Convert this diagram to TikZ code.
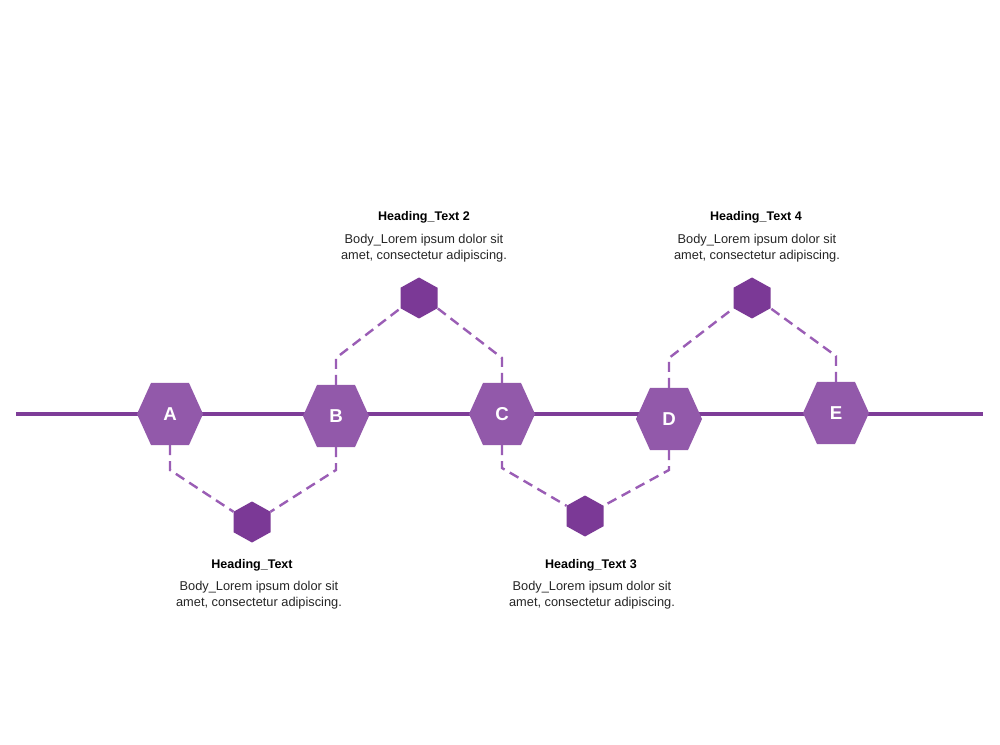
\documentclass[tikz,border=0pt]{standalone}
\usepackage{fontspec}
\setmainfont{Liberation Sans}
\usetikzlibrary{calc}
\definecolor{hexfill}{HTML}{9259AA}
\definecolor{linecol}{HTML}{7E3D98}
\definecolor{smallfill}{HTML}{7B3996}
\definecolor{dashcol}{HTML}{9A5DB5}
\tikzset{
  bighex/.style={rectangle, inner sep=0pt, outer sep=0pt,
    minimum width=49.5pt, minimum height=46.5pt,
    text=white, font=\fontsize{14}{16}\selectfont\bfseries,
    path picture={\fill[hexfill] (path picture bounding box.west)
      -- ($(path picture bounding box.north)!0.576!(path picture bounding box.north west)$)
      -- ($(path picture bounding box.north)!0.576!(path picture bounding box.north east)$)
      -- (path picture bounding box.east)
      -- ($(path picture bounding box.south)!0.576!(path picture bounding box.south east)$)
      -- ($(path picture bounding box.south)!0.576!(path picture bounding box.south west)$)
      -- cycle;}},
  smallhex/.style={rectangle, inner sep=0pt, outer sep=0pt,
    minimum width=27.75pt, minimum height=30.75pt,
    path picture={\fill[smallfill] (path picture bounding box.north)
      -- ($(path picture bounding box.north east)!0.25!(path picture bounding box.south east)$)
      -- ($(path picture bounding box.north east)!0.75!(path picture bounding box.south east)$)
      -- (path picture bounding box.south)
      -- ($(path picture bounding box.south west)!0.25!(path picture bounding box.north west)$)
      -- ($(path picture bounding box.south west)!0.75!(path picture bounding box.north west)$)
      -- cycle;}},
  mainline/.style={draw=linecol, line width=2.8pt},
  dashline/.style={draw=dashcol, line width=1.8pt, dash pattern=on 7.5pt off 4.5pt},
  headtext/.style={font=\fontsize{9.4}{11}\selectfont\bfseries, text=black, inner sep=0pt},
  bodytext/.style={font=\fontsize{9.6}{12}\selectfont, text=black!85, align=center, inner sep=0pt}
}
\begin{document}
\begin{tikzpicture}[x=0.75pt, y=-0.75pt]
\useasboundingbox (0,0) rectangle (1000,745);
\fill[white] (0,0) rectangle (1000,745);

% main line
\coordinate (L0) at (16,414);
\coordinate (L1) at (983,414);
\draw[mainline] (L0) -- (L1);

% big hexagons
\node[bighex] (A) at (170,414) {A};
\node[bighex] (B) at (336,416) {B};
\node[bighex] (C) at (502,414) {C};
\node[bighex] (D) at (669,419) {D};
\node[bighex] (E) at (836,413) {E};

% small hexagons
\node[smallhex] (S1) at (252,522) {};
\node[smallhex] (S2) at (419,298) {};
\node[smallhex] (S3) at (585,516) {};
\node[smallhex] (S4) at (752,298) {};

% dashed connectors
\draw[dashline] (A.south) -- (A.south |- 0,470) -- ($(S1.north west)!0.25!(S1.south west)$);
\draw[dashline] (B.south) -- (B.south |- 0,470) -- ($(S1.north east)!0.25!(S1.south east)$);
\draw[dashline] (B.north) -- (B.north |- 0,358) -- ($(S2.south west)!0.25!(S2.north west)$);
\draw[dashline] (C.north) -- (C.north |- 0,358) -- ($(S2.south east)!0.25!(S2.north east)$);
\draw[dashline] (C.south) -- (C.south |- 0,468) -- ($(S3.north west)!0.25!(S3.south west)$);
\draw[dashline] (D.south) -- (D.south |- 0,470) -- ($(S3.north east)!0.25!(S3.south east)$);
\draw[dashline] (D.north) -- (D.north |- 0,358) -- ($(S4.south west)!0.25!(S4.north west)$);
\draw[dashline] (E.north) -- (E.north |- 0,356) -- ($(S4.south east)!0.25!(S4.north east)$);

% texts
\node[headtext] (H1) at (252,565) {Heading\_Text};
\node[bodytext] (T1) at (259,595) {Body\_Lorem ipsum dolor sit\\amet, consectetur adipiscing.};
\node[headtext] (H2) at (424,217) {Heading\_Text 2};
\node[bodytext] (T2) at (424,248) {Body\_Lorem ipsum dolor sit\\amet, consectetur adipiscing.};
\node[headtext] (H3) at (591,565) {Heading\_Text 3};
\node[bodytext] (T3) at (592,595) {Body\_Lorem ipsum dolor sit\\amet, consectetur adipiscing.};
\node[headtext] (H4) at (756,217) {Heading\_Text 4};
\node[bodytext] (T4) at (757,248) {Body\_Lorem ipsum dolor sit\\amet, consectetur adipiscing.};
\end{tikzpicture}
\end{document}
